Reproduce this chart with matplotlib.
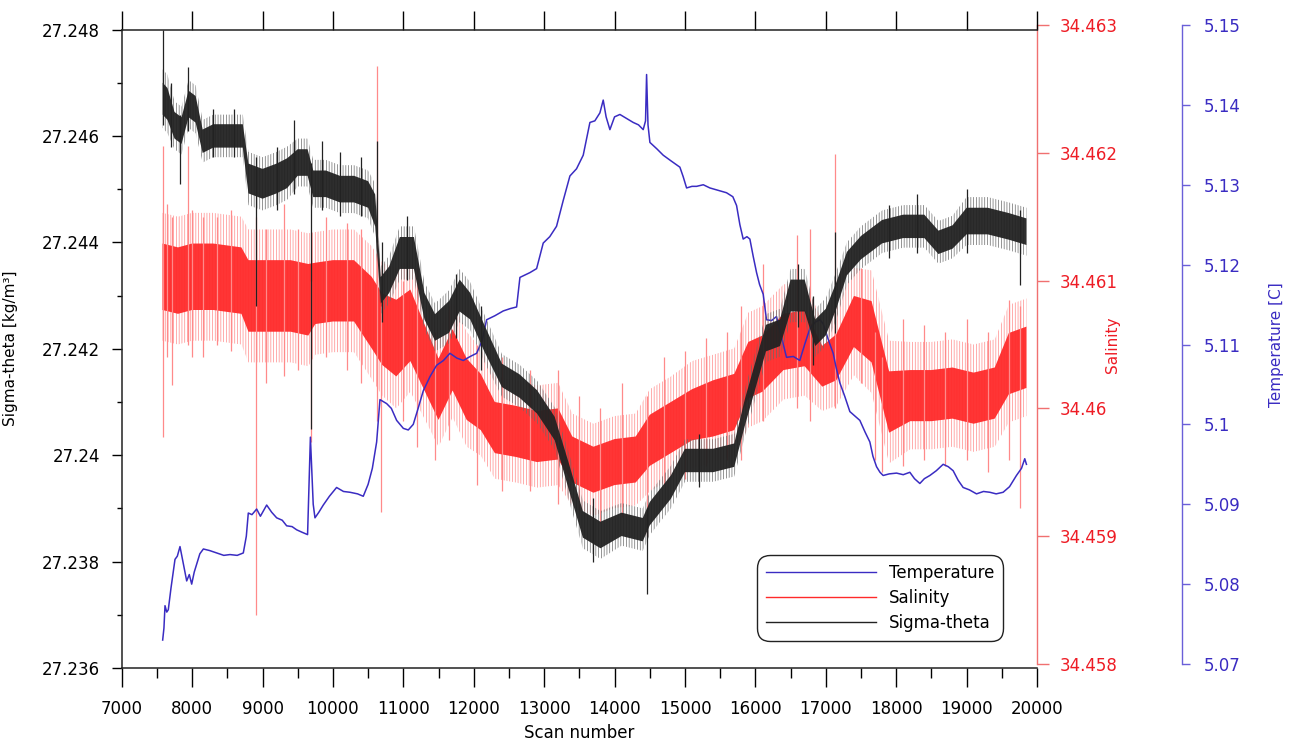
import matplotlib

matplotlib.use("Agg")
import matplotlib.pyplot as plt
import numpy as np
from matplotlib.lines import Line2D
from matplotlib.ticker import MultipleLocator

# --- sigma-theta [kg/m3]: running level, dense-core and outer noise half-spread ---
sig_scan = [7582, 7650, 7750, 7850, 7950, 8050, 8150, 8300, 8500, 8720, 8800, 9000,
            9200, 9350, 9500, 9640, 9720, 9900, 10100, 10300, 10500, 10600, 10680,
            10800, 10950, 11150, 11300, 11450, 11650, 11800, 11950, 12150, 12400,
            12650, 12900, 13150, 13350, 13550, 13800, 14100, 14400, 14500, 14800,
            15000, 15400, 15700, 15850, 16000, 16150, 16350, 16500, 16700, 16850,
            17000, 17150, 17300, 17500, 17800, 18100, 18400, 18600, 18800, 19000,
            19300, 19600, 19850]
sig_mid = [27.2467, 27.2466, 27.2462, 27.2461, 27.2466, 27.2465, 27.2459, 27.2460,
           27.2460, 27.2460, 27.2452, 27.2451, 27.2452, 27.2453, 27.2455, 27.2455,
           27.2451, 27.2451, 27.2450, 27.2450, 27.2449, 27.2446, 27.2431, 27.2433,
           27.2438, 27.2438, 27.2428, 27.2424, 27.2426, 27.2430, 27.2428, 27.2422,
           27.2415, 27.2413, 27.2410, 27.2405, 27.2396, 27.2387, 27.2385, 27.2387,
           27.2386, 27.2389, 27.2394, 27.2399, 27.2399, 27.2400, 27.2408, 27.2415,
           27.2422, 27.2423, 27.2430, 27.2430, 27.2423, 27.2425, 27.2430, 27.2436,
           27.2439, 27.2442, 27.2443, 27.2443, 27.2440, 27.2441, 27.2444, 27.2444,
           27.2443, 27.2442]
sig_core = [0.00030, 0.00030, 0.00025, 0.00025, 0.00025, 0.00025, 0.00022, 0.00022,
            0.00022, 0.00022, 0.00028, 0.00028, 0.00028, 0.00028, 0.00025, 0.00025,
            0.00025, 0.00025, 0.00025, 0.00025, 0.00025, 0.00030, 0.00025, 0.00025,
            0.00030, 0.00030, 0.00025, 0.00025, 0.00030, 0.00030, 0.00025, 0.00025,
            0.00022, 0.00022, 0.00022, 0.00022, 0.00025, 0.00025, 0.00025, 0.00022,
            0.00022, 0.00022, 0.00022, 0.00022, 0.00022, 0.00022, 0.00025, 0.00025,
            0.00025, 0.00025, 0.00030, 0.00030, 0.00025, 0.00025, 0.00025, 0.00022,
            0.00022, 0.00022, 0.00022, 0.00022, 0.00022, 0.00022, 0.00025, 0.00025,
            0.00025, 0.00025]
sig_outer = [0.00055, 0.00055, 0.00045, 0.00045, 0.00045, 0.00045, 0.00040, 0.00040,
             0.00040, 0.00040, 0.00050, 0.00050, 0.00050, 0.00050, 0.00045, 0.00045,
             0.00045, 0.00045, 0.00045, 0.00045, 0.00045, 0.00050, 0.00045, 0.00045,
             0.00050, 0.00050, 0.00045, 0.00045, 0.00050, 0.00050, 0.00045, 0.00045,
             0.00040, 0.00040, 0.00040, 0.00040, 0.00045, 0.00045, 0.00045, 0.00040,
             0.00040, 0.00040, 0.00040, 0.00040, 0.00040, 0.00040, 0.00045, 0.00045,
             0.00045, 0.00045, 0.00050, 0.00050, 0.00045, 0.00045, 0.00045, 0.00040,
             0.00040, 0.00040, 0.00040, 0.00040, 0.00040, 0.00040, 0.00045, 0.00045,
             0.00045, 0.00045]
# isolated sigma-theta excursions (scan, low, high)
sig_spk_scan = [7585, 7700, 7830, 7940, 8300, 8600, 8907, 9200, 9450, 9690, 9850,
                10100, 10400, 10620, 10700, 11050, 11750, 12100, 13700, 14455, 15200,
                16600, 16820, 17129, 17900, 18300, 19000, 19765]
sig_spk_lo = [27.2462, 27.2458, 27.2451, 27.2461, 27.2456, 27.2456, 27.2428, 27.2446,
              27.2449, 27.2405, 27.2446, 27.2445, 27.2445, 27.2440, 27.2425, 27.2433,
              27.2422, 27.2416, 27.2380, 27.2374, 27.2394, 27.2424, 27.2417, 27.2423,
              27.2437, 27.2438, 27.2438, 27.2432]
sig_spk_hi = [27.2480, 27.2470, 27.2464, 27.2473, 27.2465, 27.2465, 27.2456, 27.2458,
              27.2463, 27.2455, 27.2459, 27.2457, 27.2456, 27.2459, 27.2440, 27.2445,
              27.2434, 27.2428, 27.2392, 27.2390, 27.2404, 27.2436, 27.2430, 27.2442,
              27.2447, 27.2449, 27.2450, 27.2446]

# --- salinity: running level, dense-core and outer noise half-spread ---
sal_scan = [7580, 7800, 8000, 8300, 8700, 8800, 9100, 9400, 9650, 9750, 10000, 10300,
            10550, 10700, 10900, 11100, 11300, 11500, 11700, 11900, 12100, 12300,
            12600, 12900, 13200, 13400, 13700, 14000, 14300, 14500, 14800, 15100,
            15400, 15700, 15900, 16100, 16400, 16700, 16950, 17150, 17400, 17650,
            17900, 18200, 18500, 18800, 19100, 19400, 19600, 19850]
sal_mid = [34.46103, 34.46100, 34.46103, 34.46103, 34.46100, 34.46088, 34.46088,
           34.46088, 34.46085, 34.46090, 34.46092, 34.46092, 34.46075, 34.46062,
           34.46055, 34.46065, 34.46040, 34.46015, 34.46038, 34.46015, 34.46005,
           34.45985, 34.45982, 34.45978, 34.45980, 34.45960, 34.45952, 34.45958,
           34.45960, 34.45975, 34.45985, 34.45995, 34.46000, 34.46005, 34.46030,
           34.46035, 34.46052, 34.46055, 34.46033, 34.46040, 34.46068, 34.46060,
           34.46005, 34.46010, 34.46010, 34.46012, 34.46008, 34.46012, 34.46035,
           34.46040]
sal_core = [0.00026, 0.00026, 0.00026, 0.00026, 0.00026, 0.00028, 0.00028, 0.00028,
            0.00028, 0.00024, 0.00024, 0.00024, 0.00028, 0.00028, 0.00030, 0.00028,
            0.00026, 0.00024, 0.00024, 0.00024, 0.00022, 0.00020, 0.00020, 0.00020,
            0.00020, 0.00018, 0.00018, 0.00018, 0.00018, 0.00020, 0.00020, 0.00020,
            0.00022, 0.00022, 0.00022, 0.00022, 0.00022, 0.00022, 0.00016, 0.00018,
            0.00020, 0.00024, 0.00024, 0.00020, 0.00020, 0.00020, 0.00020, 0.00020,
            0.00024, 0.00024]
sal_outer = [0.00050, 0.00050, 0.00050, 0.00050, 0.00050, 0.00052, 0.00052, 0.00052,
             0.00052, 0.00048, 0.00048, 0.00048, 0.00052, 0.00052, 0.00055, 0.00052,
             0.00048, 0.00045, 0.00045, 0.00045, 0.00042, 0.00040, 0.00040, 0.00040,
             0.00040, 0.00036, 0.00036, 0.00036, 0.00036, 0.00040, 0.00040, 0.00042,
             0.00042, 0.00042, 0.00045, 0.00045, 0.00045, 0.00045, 0.00035, 0.00038,
             0.00042, 0.00048, 0.00048, 0.00042, 0.00042, 0.00042, 0.00042, 0.00042,
             0.00046, 0.00046]
# isolated salinity spikes (scan, low, high)
sal_spk_scan = [7590, 7640, 7720, 7937, 8000, 8150, 8350, 8550, 8907, 9050, 9300,
                9500, 9690, 9900, 10200, 10400, 10620, 10680, 11000, 11200, 11450,
                11650, 12050, 12400, 12800, 13200, 13500, 13800, 14100, 14455, 14700,
                15000, 15300, 15600, 15800, 16111, 16585, 16780, 17129, 17500, 17700,
                17800, 18100, 18400, 18700, 19000, 19300, 19600, 19765]
sal_spk_lo = [34.45978, 34.46040, 34.46018, 34.46050, 34.46040, 34.46040, 34.46050,
              34.46045, 34.45838, 34.46020, 34.46025, 34.46030, 34.45974, 34.46040,
              34.46030, 34.46020, 34.45990, 34.45919, 34.45990, 34.45970, 34.45960,
              34.45975, 34.45940, 34.45935, 34.45935, 34.45925, 34.45920, 34.45910,
              34.45915, 34.45900, 34.45940, 34.45945, 34.45955, 34.45960, 34.45960,
              34.45990, 34.46000, 34.45990, 34.46000, 34.46020, 34.45960, 34.45950,
              34.45955, 34.45960, 34.45955, 34.45960, 34.45950, 34.45960, 34.45922]
sal_spk_hi = [34.46205, 34.46160, 34.46150, 34.46205, 34.46155, 34.46150, 34.46150,
              34.46155, 34.46150, 34.46140, 34.46160, 34.46140, 34.46100, 34.46150,
              34.46145, 34.46140, 34.46268, 34.46080, 34.46100, 34.46110, 34.46060,
              34.46080, 34.46050, 34.46040, 34.46030, 34.46030, 34.46010, 34.46000,
              34.46020, 34.46010, 34.46040, 34.46045, 34.46055, 34.46060, 34.46080,
              34.46113, 34.46136, 34.46140, 34.46199, 34.46110, 34.46060, 34.46040,
              34.46070, 34.46065, 34.46060, 34.46070, 34.46060, 34.46085, 34.46080]

# --- temperature [C] ---
tmp_scan = [7582, 7600, 7615, 7640, 7662, 7700, 7757, 7790, 7828, 7870, 7923, 7960,
            7994, 8030, 8065, 8110, 8160, 8250, 8349, 8450, 8538, 8640, 8727, 8770,
            8798, 8850, 8917, 8970, 9059, 9130, 9201, 9280, 9343, 9420, 9485, 9560,
            9640, 9680, 9720, 9745, 9800, 9863, 9950, 10052, 10150, 10242, 10350,
            10431, 10500, 10560, 10621, 10668, 10763, 10830, 10905, 11000, 11070,
            11141, 11210, 11283, 11380, 11473, 11570, 11662, 11760, 11852, 11950,
            12041, 12120, 12183, 12300, 12419, 12520, 12609, 12656, 12798, 12893,
            12987, 13080, 13176, 13270, 13366, 13460, 13555, 13650, 13720, 13792,
            13839, 13880, 13934, 14000, 14076, 14170, 14265, 14340, 14407, 14440,
            14455, 14475, 14502, 14600, 14691, 14800, 14928, 14975, 15023, 15100,
            15165, 15260, 15354, 15470, 15590, 15680, 15733, 15780, 15827, 15880,
            15922, 15970, 16017, 16060, 16111, 16158, 16230, 16300, 16370, 16442,
            16540, 16631, 16700, 16774, 16850, 16916, 16963, 17040, 17105, 17150,
            17200, 17270, 17342, 17420, 17484, 17560, 17626, 17670, 17721, 17770,
            17815, 17900, 18005, 18100, 18194, 18260, 18336, 18400, 18478, 18570,
            18667, 18740, 18809, 18880, 18951, 19040, 19141, 19240, 19330, 19420,
            19519, 19610, 19708, 19780, 19826, 19850]
tmp_val = [5.0730, 5.0745, 5.0773, 5.0765, 5.0768, 5.0795, 5.0831, 5.0835, 5.0847,
           5.0828, 5.0804, 5.0812, 5.0800, 5.0815, 5.0825, 5.0838, 5.0844, 5.0842,
           5.0839, 5.0836, 5.0837, 5.0836, 5.0839, 5.0860, 5.0889, 5.0887, 5.0894,
           5.0885, 5.0899, 5.0890, 5.0883, 5.0880, 5.0873, 5.0872, 5.0868, 5.0865,
           5.0862, 5.0984, 5.0900, 5.0883, 5.0890, 5.0899, 5.0910, 5.0921, 5.0916,
           5.0915, 5.0913, 5.0910, 5.0925, 5.0945, 5.0978, 5.1031, 5.1026, 5.1020,
           5.1005, 5.0995, 5.0993, 5.1000, 5.1020, 5.1042, 5.1060, 5.1074, 5.1080,
           5.1089, 5.1083, 5.1080, 5.1085, 5.1089, 5.1105, 5.1131, 5.1136, 5.1142,
           5.1145, 5.1147, 5.1184, 5.1190, 5.1195, 5.1227, 5.1235, 5.1248, 5.1280,
           5.1311, 5.1320, 5.1337, 5.1378, 5.1380, 5.1390, 5.1406, 5.1385, 5.1369,
           5.1385, 5.1388, 5.1383, 5.1378, 5.1375, 5.1369, 5.1380, 5.1438, 5.1375,
           5.1353, 5.1345, 5.1337, 5.1330, 5.1322, 5.1310, 5.1296, 5.1298, 5.1298,
           5.1300, 5.1296, 5.1293, 5.1290, 5.1285, 5.1274, 5.1250, 5.1232, 5.1235,
           5.1232, 5.1210, 5.1190, 5.1175, 5.1163, 5.1131, 5.1130, 5.1135, 5.1110,
           5.1084, 5.1085, 5.1080, 5.1100, 5.1120, 5.1128, 5.1131, 5.1126, 5.1105,
           5.1089, 5.1070, 5.1052, 5.1035, 5.1016, 5.1010, 5.1005, 5.0990, 5.0978,
           5.0960, 5.0947, 5.0940, 5.0936, 5.0938, 5.0939, 5.0937, 5.0940, 5.0932,
           5.0926, 5.0932, 5.0936, 5.0942, 5.0950, 5.0947, 5.0942, 5.0930, 5.0921,
           5.0918, 5.0913, 5.0916, 5.0915, 5.0913, 5.0915, 5.0922, 5.0936, 5.0945,
           5.0957, 5.0950]

x_ticks = list(range(7000, 20001, 1000))
sig_ticks = [27.236, 27.238, 27.240, 27.242, 27.244, 27.246, 27.248]
sig_ticklabels = ["27.236", "27.238", "27.24", "27.242", "27.244", "27.246", "27.248"]
sal_ticks = [34.458, 34.459, 34.460, 34.461, 34.462, 34.463]
sal_ticklabels = ["34.458", "34.459", "34.46", "34.461", "34.462", "34.463"]
tmp_ticks = [5.07, 5.08, 5.09, 5.10, 5.11, 5.12, 5.13, 5.14, 5.15]
tmp_ticklabels = ["5.07", "5.08", "5.09", "5.1", "5.11", "5.12", "5.13", "5.14", "5.15"]

C_SIG = "#222222"
C_SIG_LIGHT = "#6a6a6a"
C_SAL = "#ff2a2a"
C_SAL_LIGHT = "#ff8a8a"
C_TMP = "#3a2cc2"
C_TMP_AXIS = "#6a5fd8"
C_SAL_AXIS = "#f07070"

plt.rcParams["font.family"] = ["DejaVu Sans"]
plt.rcParams["font.size"] = 12
plt.rcParams["hatch.linewidth"] = 0.5


def noisy_band(axis, x, mid, core, outer, color, light):
    """Dense core of the sensor noise plus a finely combed outer fringe."""
    mid = np.asarray(mid)
    core = np.asarray(core)
    outer = np.asarray(outer)
    axis.fill_between(x, mid - outer, mid + outer, facecolor="none",
                      edgecolor=light, hatch="||||||", lw=0)
    axis.fill_between(x, mid - core, mid + core, facecolor=color, lw=0, alpha=0.95)


W, H = 1295, 749
fig = plt.figure(figsize=(W / 100, H / 100), dpi=100)
fig.patch.set_facecolor("white")

# pixel boxes of the three stacked axes
main_box = [121.7 / W, (H - 668) / H, 915.3 / W, 638.5 / H]
side_box = [121.7 / W, (H - 664) / H, 915.3 / W, 639.0 / H]

# salinity axis (drawn first, sits under the others)
ax_s = fig.add_axes(side_box)
ax_s.patch.set_visible(False)
ax_s.set_xlim(7000, 20000)
ax_s.set_ylim(34.458, 34.463)
noisy_band(ax_s, sal_scan, sal_mid, sal_core, sal_outer, C_SAL, C_SAL_LIGHT)
ax_s.vlines(sal_spk_scan, sal_spk_lo, sal_spk_hi, color=C_SAL_LIGHT, lw=0.9)
for side in ["left", "top", "bottom"]:
    ax_s.spines[side].set_visible(False)
ax_s.spines["right"].set_color(C_SAL_AXIS)
ax_s.spines["right"].set_linewidth(1.0)
ax_s.xaxis.set_visible(False)
ax_s.yaxis.tick_right()
ax_s.set_yticks(sal_ticks)
ax_s.set_yticklabels(sal_ticklabels)
ax_s.tick_params(axis="y", colors=C_SAL_AXIS, labelcolor="#ee1c25", length=8.5,
                 width=1.0, pad=8)
ax_s.set_ylabel("Salinity", color="#ee1c25", fontsize=11)
ax_s.yaxis.set_label_position("right")
ax_s.yaxis.set_label_coords(1.0743, 0.5)

# temperature axis, its spine pushed out to the right
ax_t = fig.add_axes(side_box)
ax_t.patch.set_visible(False)
ax_t.set_xlim(7000, 20000)
ax_t.set_ylim(5.07, 5.15)
ax_t.plot(tmp_scan, tmp_val, color=C_TMP, lw=1.1)
for side in ["left", "top", "bottom"]:
    ax_t.spines[side].set_visible(False)
ax_t.spines["right"].set_position(("axes", (1182 - 121.7) / 915.3))
ax_t.spines["right"].set_color(C_TMP_AXIS)
ax_t.spines["right"].set_linewidth(1.0)
ax_t.xaxis.set_visible(False)
ax_t.yaxis.tick_right()
ax_t.set_yticks(tmp_ticks)
ax_t.set_yticklabels(tmp_ticklabels)
ax_t.tick_params(axis="y", colors=C_TMP_AXIS, labelcolor="#3a2cc2", length=6,
                 width=1.0, pad=10)
ax_t.set_ylabel("Temperature [C]", color="#3a2cc2", fontsize=11)
ax_t.yaxis.set_label_position("right")
ax_t.yaxis.set_label_coords(1.2536, 0.5)

# sigma-theta on the main (left/bottom) axes, on top
ax = fig.add_axes(main_box)
ax.patch.set_visible(False)
ax.set_xlim(7000, 20000)
ax.set_ylim(27.236, 27.248)
noisy_band(ax, sig_scan, sig_mid, sig_core, sig_outer, C_SIG, C_SIG_LIGHT)
ax.vlines(sig_spk_scan, sig_spk_lo, sig_spk_hi, color=C_SIG, lw=0.9)
ax.spines["right"].set_visible(False)
for side in ["left", "top", "bottom"]:
    ax.spines[side].set_linewidth(1.1)
    ax.spines[side].set_color("#222222")

ax.set_xticks(x_ticks)
ax.xaxis.set_minor_locator(MultipleLocator(500))
ax.set_yticks(sig_ticks)
ax.set_yticklabels(sig_ticklabels)
ax.yaxis.set_minor_locator(MultipleLocator(0.001))
ax.tick_params(axis="x", which="major", direction="out", length=14, width=1.0,
               top=True, pad=9)
ax.tick_params(axis="x", which="minor", direction="out", length=7, width=1.0,
               top=False)
ax.tick_params(axis="y", which="major", direction="out", length=7.5, width=1.0, pad=8)
ax.tick_params(axis="y", which="minor", direction="out", length=3.5, width=1.0)
ax.set_xlabel("Scan number", fontsize=12, labelpad=4)
ax.set_ylabel("Sigma-theta [kg/m\u00b3]", fontsize=11)
ax.yaxis.set_label_coords(-0.1133, 0.5)

handles = [Line2D([], [], color=C_TMP, lw=1.0),
           Line2D([], [], color=C_SAL, lw=1.0),
           Line2D([], [], color=C_SIG, lw=1.0)]
leg = ax.legend(handles, ["Temperature", "Salinity", "Sigma-theta"],
                loc="upper left", bbox_to_anchor=(757 / W, 1 - 555 / H),
                bbox_transform=fig.transFigure, borderaxespad=0, fontsize=12,
                handlelength=6.6, handletextpad=0.75, labelspacing=0.4,
                borderpad=0.55, fancybox=True, framealpha=1)
leg.get_frame().set_edgecolor("#222222")
leg.get_frame().set_linewidth(1.0)
leg.get_frame().set_boxstyle("round,pad=0,rounding_size=0.75")

fig.savefig("out.png", dpi=100, facecolor="white")
